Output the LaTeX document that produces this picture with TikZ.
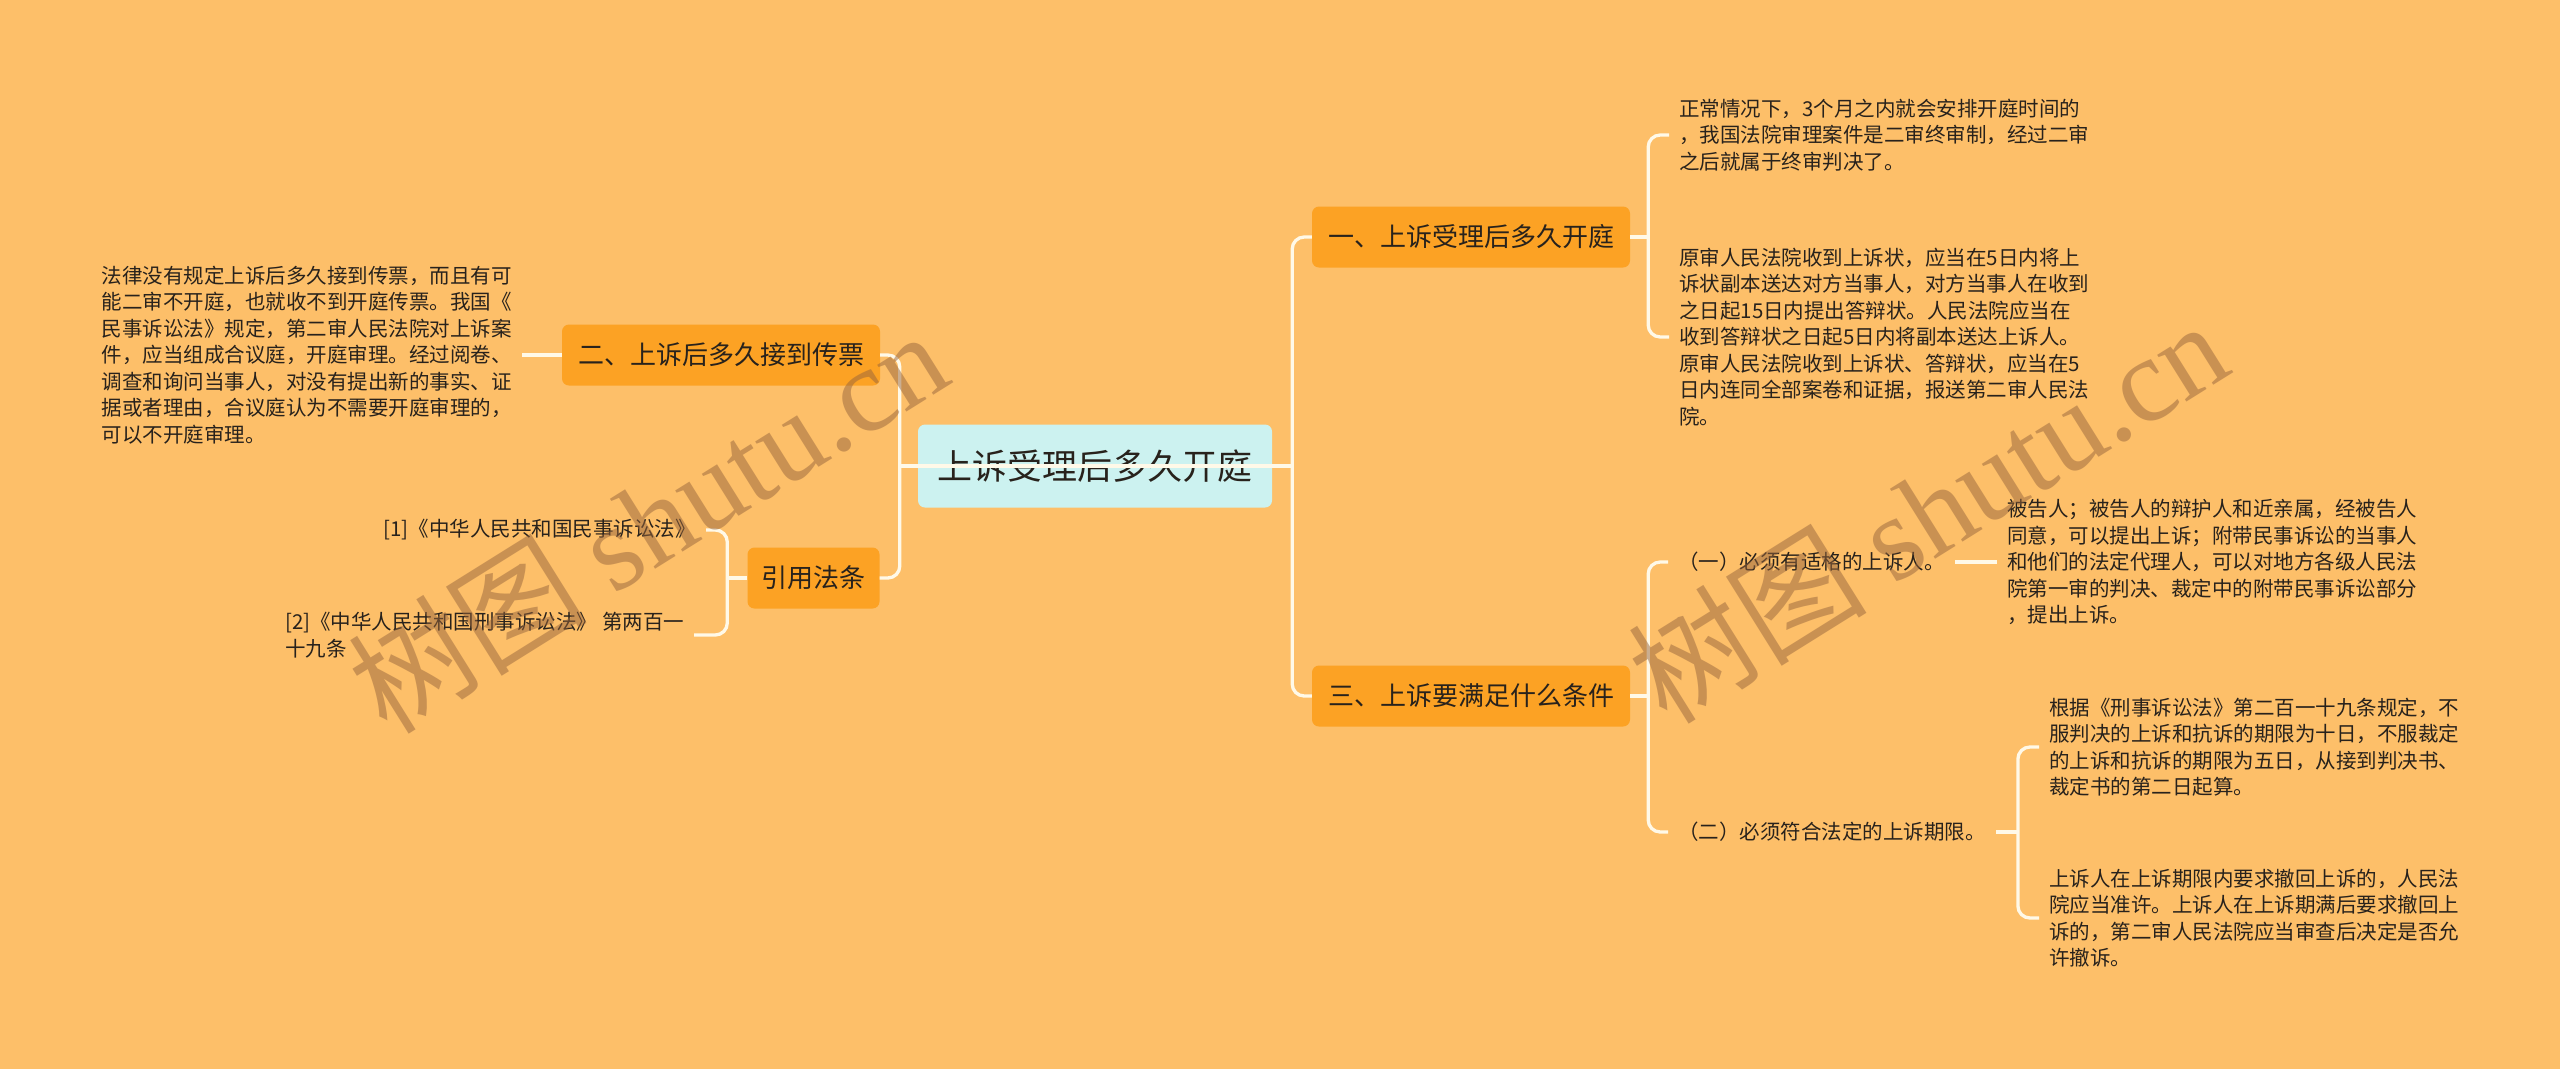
\documentclass[tikz,border=0pt]{standalone}
\usepackage{fontspec}
\setmainfont{Noto Sans CJK SC}
\newfontfamily\wmfont{Liberation Serif}
\usetikzlibrary{positioning}
\definecolor{bgfill}{RGB}{253,191,105}
\definecolor{topicfill}{RGB}{204,242,240}
\definecolor{branchfill}{RGB}{252,162,36}
\definecolor{linkcol}{RGB}{255,249,232}
\definecolor{inkcol}{RGB}{40,34,28}
\definecolor{wmcol}{RGB}{150,100,60}

\begin{document}
\begin{tikzpicture}[x=1pt,y=-1pt,
  topic/.style={fill=topicfill,rounded corners=7pt,minimum width=354pt,minimum height=83pt,
                font=\fontsize{35}{40}\selectfont,text=inkcol,inner sep=0pt},
  branch/.style={fill=branchfill,rounded corners=7pt,minimum height=61pt,inner xsep=14pt,
                 font=\fontsize{26}{30}\selectfont,text=inkcol},
  leaf/.style={align=left,inner xsep=10pt,inner ysep=3pt,
               font=\fontsize{20.5}{26.5}\selectfont,text=inkcol},
  ln/.style={draw=linkcol,line width=3.3pt,rounded corners=12pt},
  wm/.style={font=\fontsize{120}{120}\selectfont,text=wmcol,opacity=0.5,rotate=32,anchor=west}
]
\fill[bgfill] (0,0) rectangle (2560,1069);
\useasboundingbox (0,0) rectangle (2560,1069);

% centre and main branches
\node[topic] (root) at (1095,466) {上诉受理后多久开庭};
\node[branch,minimum width=318pt] (one) at (1471,237) {一、上诉受理后多久开庭};
\node[branch,minimum width=318pt] (three) at (1471,696) {三、上诉要满足什么条件};
\node[branch,minimum width=318pt] (two) at (721,355) {二、上诉后多久接到传票};
\node[branch] (cite) at (813.5,578) {引用法条};

% texts of one
\node[leaf,anchor=west] (oneA) at (1669,135) {正常情况下，3个月之内就会安排开庭时间的\\
  ，我国法院审理案件是二审终审制，经过二审\\
  之后就属于终审判决了。};
\node[leaf,anchor=west] (oneB) at (1669,337) {原审人民法院收到上诉状，应当在5日内将上\\
  诉状副本送达对方当事人，对方当事人在收到\\
  之日起15日内提出答辩状。人民法院应当在\\
  收到答辩状之日起5日内将副本送达上诉人。\\
  原审人民法院收到上诉状、答辩状，应当在5\\
  日内连同全部案卷和证据，报送第二审人民法\\
  院。};

% texts of two and cite
\node[leaf,left=40pt of two] (twoA) {法律没有规定上诉后多久接到传票，而且有可\\
  能二审不开庭，也就收不到开庭传票。我国《\\
  民事诉讼法》规定，第二审人民法院对上诉案\\
  件，应当组成合议庭，开庭审理。经过阅卷、\\
  调查和询问当事人，对没有提出新的事实、证\\
  据或者理由，合议庭认为不需要开庭审理的，\\
  可以不开庭审理。};
\node[leaf,anchor=east] (citeA) at (706,530) {[1]《中华人民共和国民事诉讼法》};
\node[leaf,anchor=west] (citeB) at (275,635) {[2]《中华人民共和国刑事诉讼法》 第两百一\\
  十九条};

% texts of three
\node[leaf,anchor=west] (reqA) at (1668,562) {（一）必须有适格的上诉人。};
\node[leaf,anchor=west] (reqB) at (1668,832) {（二）必须符合法定的上诉期限。};
\node[leaf,right=42pt of reqA] (reqAx) {被告人；被告人的辩护人和近亲属，经被告人\\
  同意，可以提出上诉；附带民事诉讼的当事人\\
  和他们的法定代理人，可以对地方各级人民法\\
  院第一审的判决、裁定中的附带民事诉讼部分\\
  ，提出上诉。};
\node[leaf,anchor=west] (reqBx) at (2039,747) {根据《刑事诉讼法》第二百一十九条规定，不\\
  服判决的上诉和抗诉的期限为十日，不服裁定\\
  的上诉和抗诉的期限为五日，从接到判决书、\\
  裁定书的第二日起算。};
\node[leaf,anchor=west] (reqBy) at (2039,918) {上诉人在上诉期限内要求撤回上诉的，人民法\\
  院应当准许。上诉人在上诉期满后要求撤回上\\
  诉的，第二审人民法院应当审查后决定是否允\\
  许撤诉。};

% links
\coordinate (jl) at ([xshift=-18pt]root.west);
\coordinate (jr) at ([xshift=20pt]root.east);
\draw[ln] (jl) -- (jr);
\draw[ln] (two.east) -| (jl) |- (cite.east);
\draw[ln] (one.west) -| (jr) |- (three.west);

\coordinate (j1) at ([xshift=18pt]one.east);
\draw[ln] (one.east) -- (j1);
\draw[ln] (oneA.west) -| (j1) |- (oneB.west);

\draw[ln] (two.west) -- (twoA.east);
\coordinate (jc) at ([xshift=-20pt]cite.west);
\draw[ln] (cite.west) -- (jc);
\draw[ln] (citeA.east) -| (jc) |- (citeB.east);

\coordinate (j3) at ([xshift=18pt]three.east);
\draw[ln] (three.east) -- (j3);
\draw[ln] (reqA.west) -| (j3) |- (reqB.west);
\draw[ln] (reqA.east) -- (reqAx.west);
\coordinate (jb) at ([xshift=22pt]reqB.east);
\draw[ln] (reqB.east) -- (jb);
\draw[ln] (reqBx.west) -| (jb) |- (reqBy.west);

% watermarks
\node[wm] (wmL) at (360,700) {树图 {\wmfont shutu.cn}};
\node[wm] (wmR) at (1640,690) {树图 {\wmfont shutu.cn}};
\end{tikzpicture}
\end{document}
